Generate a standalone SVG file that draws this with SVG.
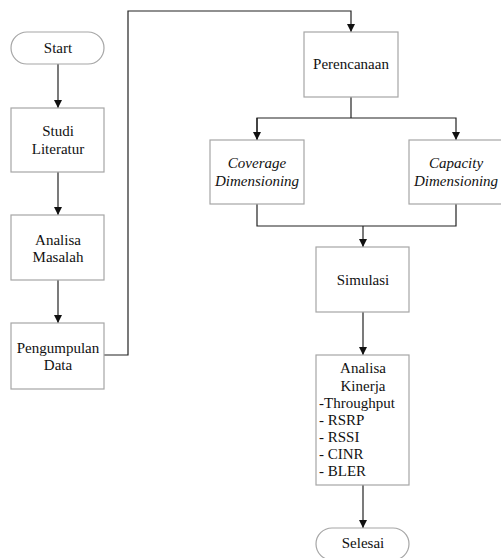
<svg xmlns="http://www.w3.org/2000/svg" width="501" height="558" viewBox="0 0 501 558">
<style>
.box{fill:#fff;stroke:#a6a6a6;stroke-width:1.2}
.t{font-family:"Liberation Serif","Times New Roman",serif;font-size:15px;fill:#111;text-anchor:middle}
.l{text-anchor:start}
.i{font-style:italic}
.c{fill:none;stroke:#222;stroke-width:1.2}
</style>
<defs>
<marker id="ah" markerWidth="8" markerHeight="8" refX="8" refY="4" orient="auto" markerUnits="userSpaceOnUse">
<path d="M0,0 L8,4 L0,8 Z" fill="#111"/>
</marker>
</defs>
<rect width="501" height="558" fill="#fff"/>
<g id="connectors">
<line class="c" x1="58" y1="64" x2="58" y2="108" marker-end="url(#ah)"/>
<line class="c" x1="58" y1="172" x2="58" y2="215" marker-end="url(#ah)"/>
<line class="c" x1="58" y1="280" x2="58" y2="323" marker-end="url(#ah)"/>
<polyline class="c" points="104,355 128,355 128,11 351,11 351,32" marker-end="url(#ah)"/>
<line class="c" x1="351" y1="97" x2="351" y2="118"/>
<polyline class="c" points="257,140 257,118 456,118 456,140" marker-end="url(#ah)"/>
<line class="c" x1="257" y1="118" x2="257" y2="140" marker-end="url(#ah)"/>
<polyline class="c" points="257,204 257,226 456,226 456,204"/>
<line class="c" x1="363" y1="226" x2="363" y2="247" marker-end="url(#ah)"/>
<line class="c" x1="363" y1="312" x2="363" y2="355" marker-end="url(#ah)"/>
<line class="c" x1="363" y1="485" x2="363" y2="528" marker-end="url(#ah)"/>
</g>
<g id="start">
<rect class="box" x="11" y="32" width="93" height="32" rx="16"/>
<text class="t" x="58" y="53">Start</text>
</g>
<g id="studi">
<rect class="box" x="11" y="108" width="93" height="64"/>
<text class="t" x="58" y="136">Studi</text>
<text class="t" x="58" y="154">Literatur</text>
</g>
<g id="analisa-masalah">
<rect class="box" x="11" y="215" width="93" height="65"/>
<text class="t" x="58" y="245">Analisa</text>
<text class="t" x="58" y="262">Masalah</text>
</g>
<g id="pengumpulan">
<rect class="box" x="11" y="323" width="93" height="66"/>
<text class="t" x="58" y="353">Pengumpulan</text>
<text class="t" x="58" y="370">Data</text>
</g>
<g id="perencanaan">
<rect class="box" x="304" y="32" width="94" height="65"/>
<text class="t" x="351" y="69">Perencanaan</text>
</g>
<g id="coverage">
<rect class="box" x="210" y="140" width="94" height="64"/>
<text class="t i" x="257" y="168">Coverage</text>
<text class="t i" x="257" y="186">Dimensioning</text>
</g>
<g id="capacity">
<rect class="box" x="409" y="140" width="94" height="64"/>
<text class="t i" x="456" y="168">Capacity</text>
<text class="t i" x="456" y="186">Dimensioning</text>
</g>
<g id="simulasi">
<rect class="box" x="316" y="247" width="93" height="65"/>
<text class="t" x="363" y="285">Simulasi</text>
</g>
<g id="analisa-kinerja">
<rect class="box" x="316" y="355" width="93" height="130"/>
<text class="t" x="363" y="373">Analisa</text>
<text class="t" x="363" y="391">Kinerja</text>
<text class="t l" x="319" y="408">-Throughput</text>
<text class="t l" x="319" y="425">- RSRP</text>
<text class="t l" x="319" y="442">- RSSI</text>
<text class="t l" x="319" y="459">- CINR</text>
<text class="t l" x="319" y="476">- BLER</text>
</g>
<g id="selesai">
<rect class="box" x="316" y="528" width="93" height="32" rx="16"/>
<text class="t" x="363" y="548">Selesai</text>
</g>
</svg>
